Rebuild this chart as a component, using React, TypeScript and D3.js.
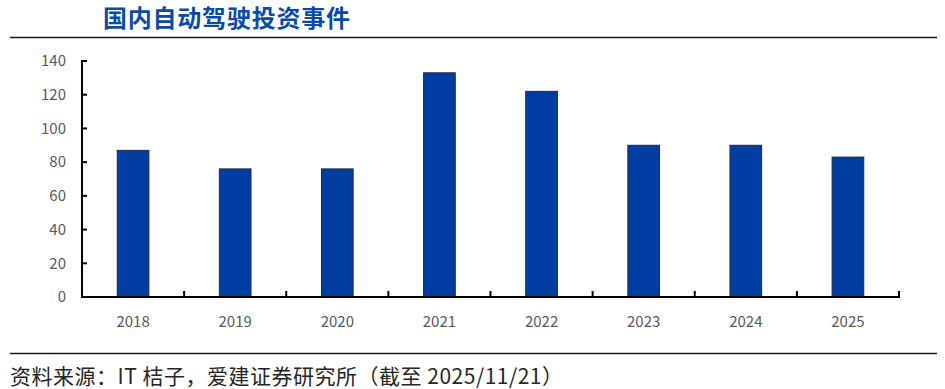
import { useEffect, useRef } from 'react';
import * as d3 from 'd3';

const years = ['2018', '2019', '2020', '2021', '2022', '2023', '2024', '2025'];
const events = [87, 76, 76, 133, 122, 90, 90, 83];
const yTicks = [0, 20, 40, 60, 80, 100, 120, 140];

export default function App() {
  const ref = useRef<SVGSVGElement>(null);

  useEffect(() => {
    if (!ref.current) return;
    const svg = d3.select(ref.current);
    svg.selectAll('*').remove();

    const font = '"Microsoft YaHei", "Noto Sans CJK SC", "DejaVu Sans", sans-serif';
    const left = 82, right = 899, top = 61, bottom = 297;

    const x = d3.scaleBand<string>().domain(years).range([left, right]).paddingInner(0.69).paddingOuter(0.345);
    const band = (right - left) / years.length;
    const y = d3.scaleLinear().domain([0, 140]).range([bottom, top]);

    // title
    svg.append('text').attr('x', 103).attr('y', 27)
      .attr('fill', '#0B4AA8').attr('font-size', '24px').attr('font-weight', 'bold')
      .attr('font-family', font).attr('textLength', 247).text('国内自动驾驶投资事件');

    svg.append('line').attr('x1', 10).attr('x2', 937).attr('y1', 37.5).attr('y2', 37.5)
      .attr('stroke', '#1a1a1a').attr('stroke-width', 1.5);
    svg.append('line').attr('x1', 10).attr('x2', 937).attr('y1', 353.5).attr('y2', 353.5)
      .attr('stroke', '#1a1a1a').attr('stroke-width', 1.5);

    // bars
    svg.append('g').selectAll('rect').data(events).enter().append('rect')
      .attr('x', (_, i) => x(years[i])!)
      .attr('width', x.bandwidth())
      .attr('y', d => y(d))
      .attr('height', d => bottom - y(d))
      .attr('fill', '#003DA0')
      .attr('stroke', '#1f2a44').attr('stroke-width', 1);

    // axes
    const ga = svg.append('g').attr('stroke', '#000').attr('stroke-width', 2);
    ga.append('line').attr('x1', left).attr('x2', left).attr('y1', top - 1).attr('y2', bottom + 1);
    ga.append('line').attr('x1', left - 1).attr('x2', right + 1).attr('y1', bottom).attr('y2', bottom);
    ga.selectAll('.yt').data(yTicks).enter().append('line')
      .attr('x1', left).attr('x2', left + 5).attr('y1', d => y(d)).attr('y2', d => y(d));
    ga.selectAll('.xt').data(d3.range(1, years.length + 1)).enter().append('line')
      .attr('x1', i => left + i * band).attr('x2', i => left + i * band)
      .attr('y1', bottom).attr('y2', bottom - 6);

    svg.append('g').selectAll('text').data(yTicks).enter().append('text')
      .attr('x', 66).attr('y', d => y(d)).attr('dy', '0.35em')
      .attr('text-anchor', 'end').attr('fill', '#595959').attr('font-size', '15px')
      .attr('font-family', font).text(d => d);

    svg.append('g').selectAll('text').data(years).enter().append('text')
      .attr('x', d => x(d)! + x.bandwidth() / 2).attr('y', 327)
      .attr('text-anchor', 'middle').attr('fill', '#595959').attr('font-size', '15px')
      .attr('font-family', font).text(d => d);

    // source
    svg.append('text').attr('x', 10).attr('y', 384)
      .attr('fill', '#262626').attr('font-size', '21px')
      .attr('font-family', font).attr('textLength', 553)
      .text('资料来源：IT 桔子，爱建证券研究所（截至 2025/11/21）');
  }, []);

  return (
    <div style={{ position: 'absolute', left: 0, top: 0, background: '#fff' }}>
      <svg ref={ref} width={945} height={389} />
    </div>
  );
}
